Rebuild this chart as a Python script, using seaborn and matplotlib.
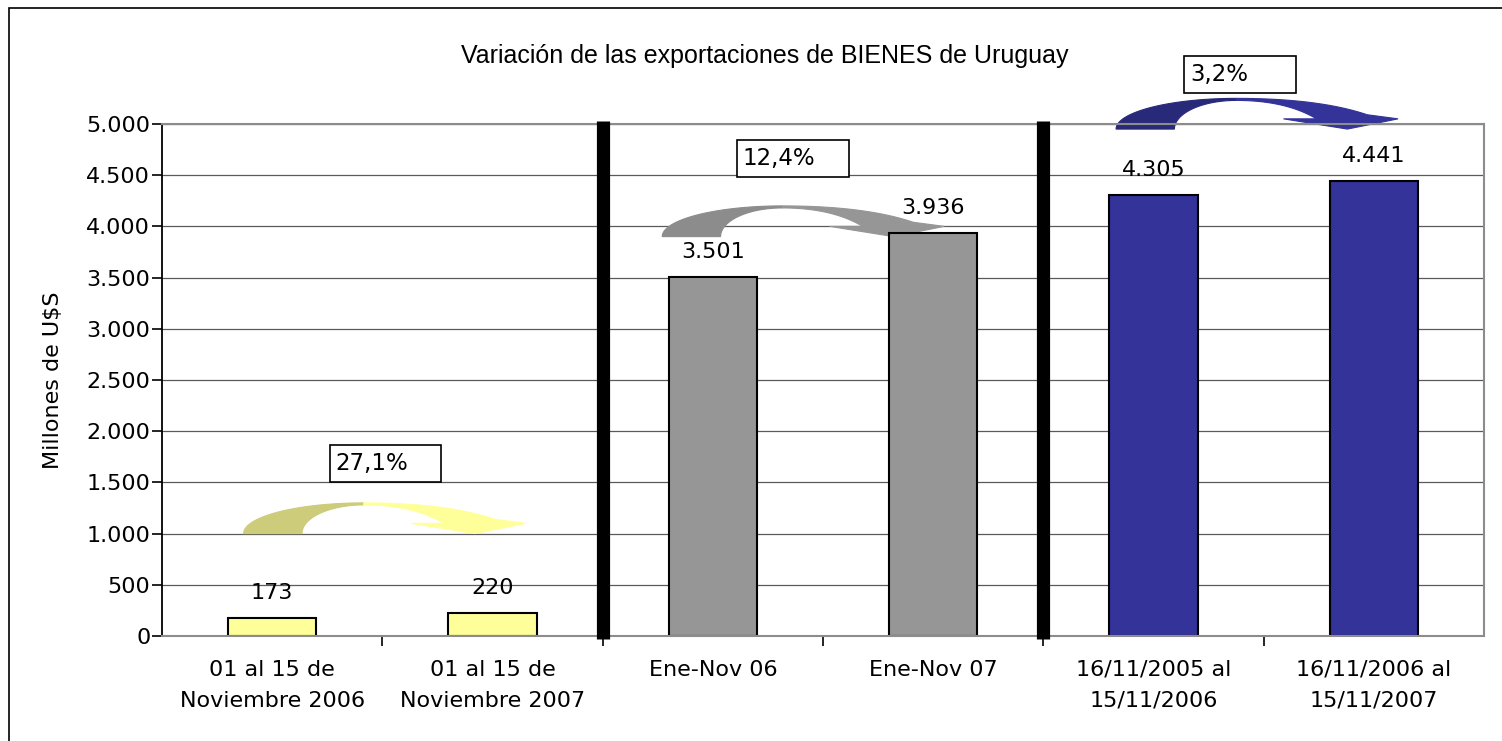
import numpy as np
import pandas as pd
import seaborn as sns
import matplotlib
matplotlib.use("Agg")
from matplotlib import pyplot as plt
from matplotlib.patches import Polygon, Rectangle

# Datos del grafico.
categorias = [
    "01 al 15 de\nNoviembre 2006",
    "01 al 15 de\nNoviembre 2007",
    "Ene-Nov 06",
    "Ene-Nov 07",
    "16/11/2005 al\n15/11/2006",
    "16/11/2006 al\n15/11/2007",
]
valores = [173, 220, 3501, 3936, 4305, 4441]
grupos = ["quincena", "quincena", "ene-nov", "ene-nov", "anual", "anual"]
colores = {"quincena": "#FFFF99", "ene-nov": "#969696", "anual": "#333399"}

# Variaciones entre cada par de barras.
variaciones = ["27,1%", "12,4%", "3,2%"]

# Ubicacion de las flechas y las cajas de texto (anotaciones).
flecha_base = [1000, 3900, 4950]
flecha_dx = [0.04, -0.06, 0.0]
oscuro = [0.8, 0.93, 0.8]
caja_x = [0.26, 2.11, 4.14]
caja_y = [1500, 4480, 5300]

titulo = "Variación de las exportaciones de BIENES de Uruguay"
etiqueta_y = "Millones de U$S"


def miles(v):
    return f"{int(v):,}".replace(",", ".")


def bezier(p0, p1, p2, n=30):
    t = np.linspace(0, 1, n)[:, None]
    return (1 - t) ** 2 * np.array(p0) + 2 * (1 - t) * t * np.array(p1) + t ** 2 * np.array(p2)


def flecha(ax, x0, h0, color, factor):
    # Flecha curva al estilo de Excel: pata izquierda oscura y cuerpo claro.
    cx = x0 + 0.375
    t = np.linspace(0, np.pi / 2, 30)
    externo = np.column_stack([cx - 0.545 * np.cos(t), h0 + 300 * np.sin(t)])
    interno = np.column_stack([cx - 0.28 * np.cos(t), h0 + 280 * np.sin(t)])
    rgb = np.array(matplotlib.colors.to_rgb(color))
    ax.add_patch(Polygon(np.vstack([externo, interno[::-1]]), closed=True,
                         facecolor=rgb * factor, edgecolor=rgb * factor,
                         lw=0.8, zorder=1.5, clip_on=False))

    arriba = bezier((cx, h0 + 300), (x0 + 0.75, h0 + 300), (x0 + 0.97, h0 + 140))
    abajo = bezier((cx, h0 + 280), (x0 + 0.6, h0 + 280), (x0 + 0.74, h0 + 100))
    punta = np.array([[x0 + 1.11, h0 + 100], [x0 + 0.88, h0], [x0 + 0.59, h0 + 100]])
    ax.add_patch(Polygon(np.vstack([arriba, punta, abajo[::-1]]), closed=True,
                         facecolor=rgb, edgecolor=rgb, lw=0.8,
                         zorder=1.5, clip_on=False))


def main():
    sns.set_theme(style="white")
    plt.rcParams["font.family"] = ["DejaVu Sans"]
    plt.rcParams["text.color"] = "black"
    plt.rcParams["axes.labelcolor"] = "black"
    plt.rcParams["xtick.color"] = "black"
    plt.rcParams["ytick.color"] = "black"

    df = pd.DataFrame({"cat": categorias, "valor": valores, "grupo": grupos})

    fig = plt.figure(figsize=(15.02, 7.41), dpi=100)
    ax = fig.add_axes([0.1079, 0.1417, 0.8801, 0.691])

    sns.barplot(data=df, x="cat", y="valor", hue="grupo", palette=colores,
                dodge=False, width=0.4, edgecolor="black", linewidth=1.5,
                saturation=1, legend=False, ax=ax, zorder=2)

    ax.set_xlim(-0.5, len(categorias) - 0.5)
    ax.set_ylim(0, 5000)
    ax.set_yticks(np.arange(0, 5001, 500))
    ax.set_yticklabels([miles(v) for v in np.arange(0, 5001, 500)])
    ax.yaxis.grid(True, color="#5A5A5A", lw=0.9, zorder=0)
    ax.set_axisbelow(True)

    # Ticks de categoria en los limites.
    ax.set_xticks(range(len(categorias)))
    ax.set_xticklabels(categorias, linespacing=1.7)
    ax.set_xticks(np.arange(0.5, len(categorias) - 0.5), minor=True)
    ax.tick_params(axis="x", which="major", length=0, pad=17, labelsize=16)
    ax.tick_params(axis="x", which="minor", length=7, width=1.2, color="black",
                   direction="out", bottom=True)
    ax.tick_params(axis="y", length=7, width=1.2, color="black", direction="out",
                   left=True, labelsize=16, pad=1.5)
    ax.set_xlabel("")
    ax.set_ylabel(etiqueta_y, fontsize=16)
    ax.yaxis.set_label_coords(-0.075, 0.5)

    for lado in ["top", "right", "bottom"]:
        ax.spines[lado].set_color("#8C8C8C")
        ax.spines[lado].set_linewidth(1.5)
    ax.spines["left"].set_color("black")
    ax.spines["left"].set_linewidth(1.3)

    # Etiquetas de valor.
    for i, v in enumerate(valores):
        ax.annotate(miles(v), (i, v), xytext=(0, 11), textcoords="offset points",
                    ha="center", va="bottom", fontsize=16, zorder=5)

    # Separadores gruesos entre grupos.
    for i in range(1, len(variaciones)):
        ax.axvline(2 * i - 0.5, ymin=-0.006, ymax=1.006, color="black", lw=9.5,
                   solid_capstyle="butt", zorder=4, clip_on=False)

    # Flechas y cajas con la variacion.
    for i, texto in enumerate(variaciones):
        color = colores[grupos[2 * i]]
        flecha(ax, 2 * i + flecha_dx[i], flecha_base[i], color, oscuro[i])
        ax.add_patch(Rectangle((caja_x[i], caja_y[i]), 0.508, 361, facecolor="white",
                               edgecolor="black", lw=1.2, zorder=5, clip_on=False))
        ax.text(caja_x[i] + 0.025, caja_y[i] + 180, texto, ha="left", va="center",
                fontsize=16.5, zorder=6, clip_on=False)

    fig.text(0.509, 0.9244, titulo, ha="center", va="center", fontsize=18,
             family=["Liberation Sans", "DejaVu Sans"])

    # Borde de la figura.
    fig.patches.append(Rectangle((0.006, -0.05), 1.1, 0.989 + 0.05, transform=fig.transFigure,
                                 fill=False, edgecolor="black", lw=1.2))

    fig.savefig("out.png", dpi=100)


if __name__ == "__main__":
    main()
